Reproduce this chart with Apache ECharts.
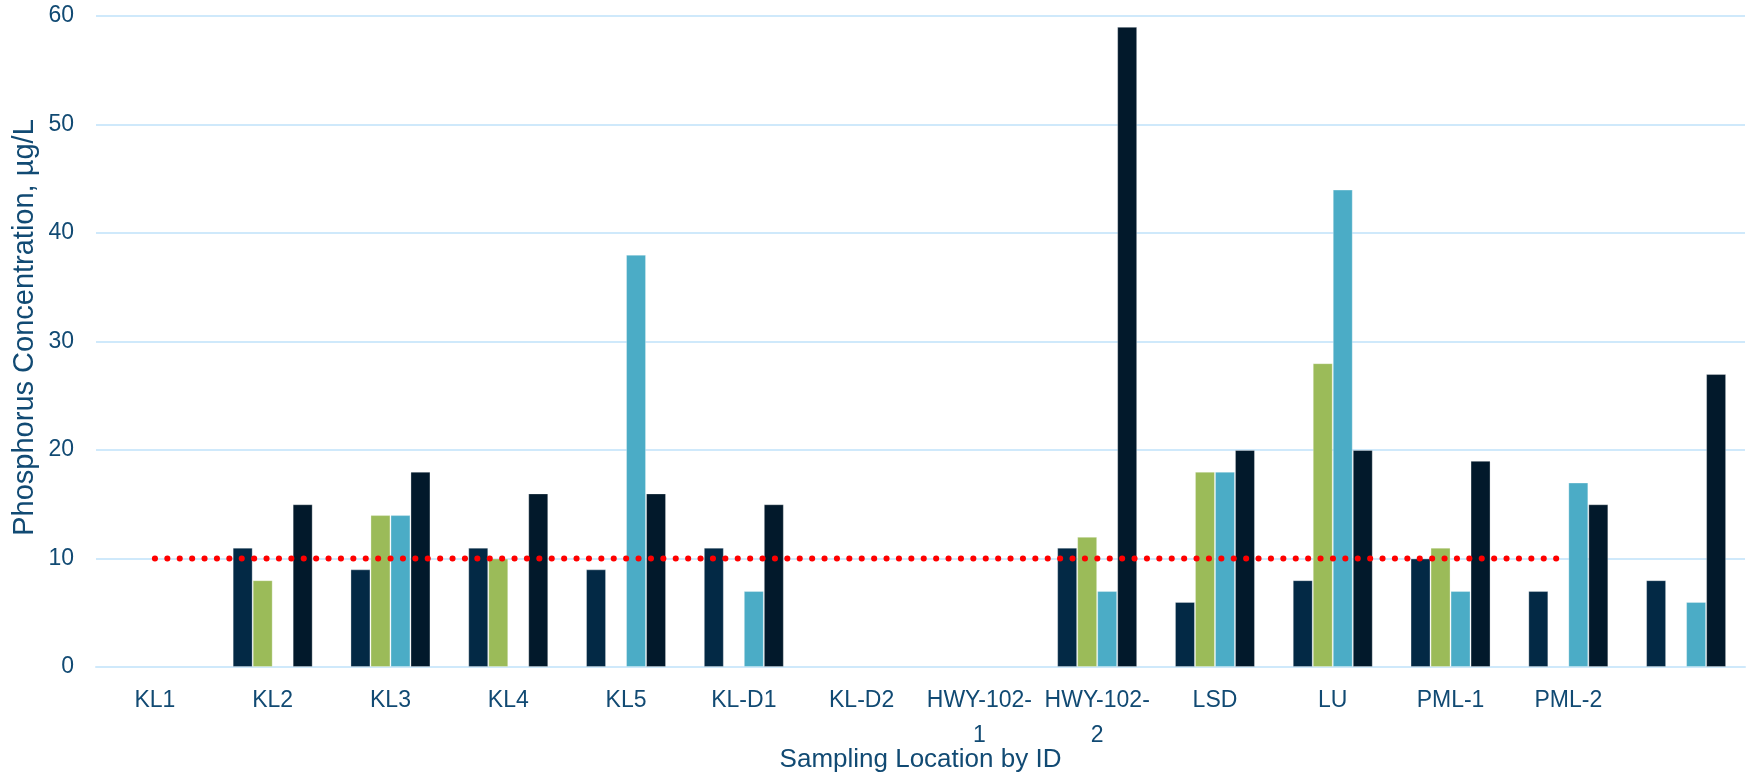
<!DOCTYPE html>
<html>
<head>
<meta charset="utf-8">
<script src="https://cdn.jsdelivr.net/npm/echarts@6/dist/echarts.min.js"></script>
<style>
html,body{margin:0;padding:0;background:#fff;}
#chart{width:1749px;height:779px;}
</style>
</head>
<body>
<div id="chart"></div>
<script>
const categories = ['KL1','KL2','KL3','KL4','KL5','KL-D1','KL-D2','HWY-102-\n1','HWY-102-\n2','LSD','LU','PML-1','PML-2',''];
const series1 = [null, 11, 9, 11, 9, 11, null, null, 11, 6, 8, 10, 7, 8];
const series2 = [null, 8, 14, 10, null, null, null, null, 12, 18, 28, 11, null, null];
const series3 = [null, null, 14, null, 38, 7, null, null, 7, 18, 44, 7, 17, 6];
const series4 = [null, 15, 18, 16, 16, 15, null, null, 59, 20, 20, 19, 15, 27];
const guideline = [10, 10, 10, 10, 10, 10, 10, 10, 10, 10, 10, 10, 10, null];
const yTicks = { min: 0, max: 60, interval: 10 };

const textColor = '#114A73';
const gridColor = '#CFE9FB';
const font = '"Liberation Sans", Arial, sans-serif';

const barColors = ['#032945', '#9BBB59', '#4BACC6', '#02192B'];
const barBorder = { borderColor: 'rgba(255,255,255,0.3)', borderWidth: 1 };

function barSeries(name, data, color) {
  return {
    name: name,
    type: 'bar',
    data: data,
    barWidth: 20,
    barGap: '0%',
    itemStyle: Object.assign({ color: color }, barBorder),
    z: 2
  };
}

const chart = echarts.init(document.getElementById('chart'), null, { renderer: 'canvas' });
chart.setOption({
  animation: false,
  backgroundColor: '#ffffff',
  grid: { left: 96, right: 4, top: 16, bottom: 112, containLabel: false, outerBoundsMode: 'none' },
  xAxis: {
    type: 'category',
    data: categories,
    name: 'Sampling Location by ID',
    nameLocation: 'middle',
    nameGap: 80,
    nameMoveOverlap: false,
    nameTextStyle: { color: textColor, fontSize: 26, fontFamily: font },
    axisLine: { show: true, lineStyle: { color: gridColor, width: 2 } },
    axisTick: { show: false },
    axisLabel: {
      color: textColor, fontSize: 23, fontFamily: font,
      lineHeight: 35, margin: 16, interval: 0,
      hideOverlap: false
    }
  },
  yAxis: {
    type: 'value',
    min: yTicks.min, max: yTicks.max, interval: yTicks.interval,
    name: 'Phosphorus Concentration, µg/L',
    nameLocation: 'middle',
    nameGap: 57,
    nameMoveOverlap: false,
    nameTextStyle: { color: textColor, fontSize: 29, fontFamily: font, padding: [0, 0, 0, 28] },
    axisLine: { show: false },
    axisTick: { show: false },
    axisLabel: { color: textColor, fontSize: 23, fontFamily: font, margin: 22 },
    splitLine: { show: true, lineStyle: { color: gridColor, width: 2 } }
  },
  series: [
    barSeries('Series 1', series1, barColors[0]),
    barSeries('Series 2', series2, barColors[1]),
    barSeries('Series 3', series3, barColors[2]),
    barSeries('Series 4', series4, barColors[3]),
    {
      name: 'Guideline',
      type: 'line',
      data: guideline,
      symbol: 'none',
      connectNulls: false,
      lineStyle: { color: '#FF0000', width: 6, type: [0.1, 12.3], cap: 'round' },
      z: 5
    }
  ]
});
</script>
</body>
</html>
